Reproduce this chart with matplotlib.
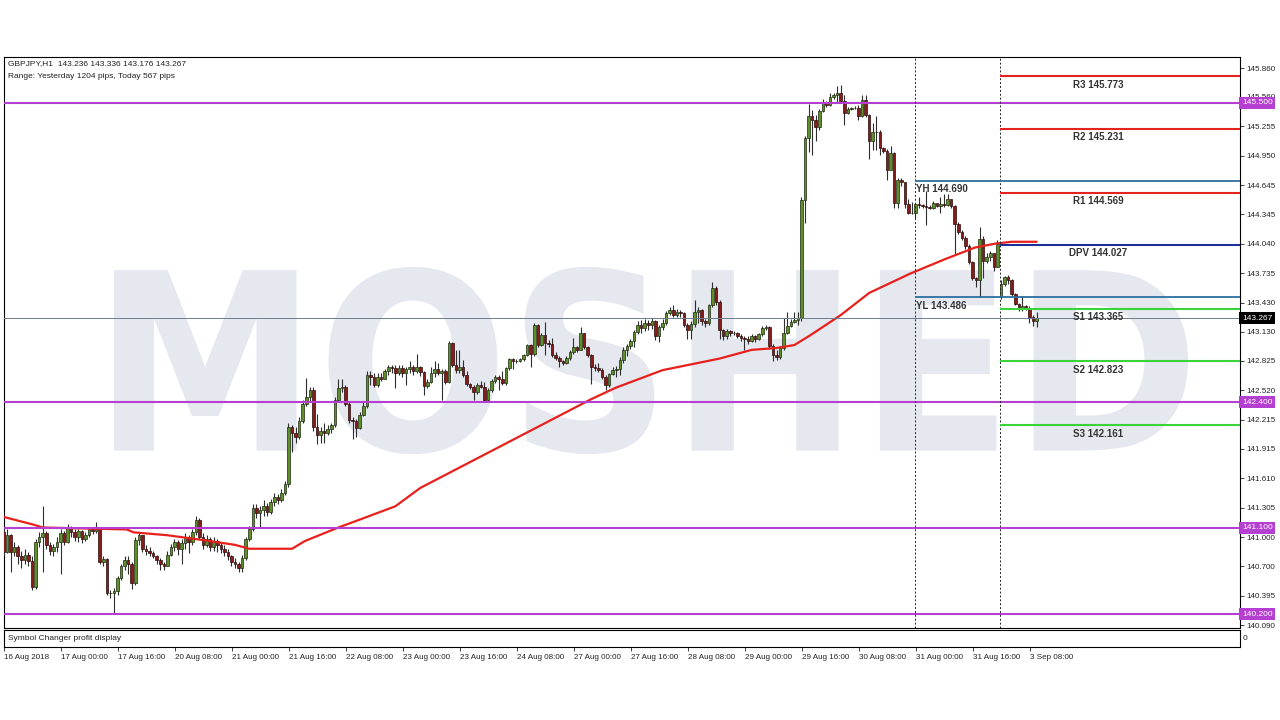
import matplotlib
matplotlib.use('Agg')
import matplotlib.pyplot as plt
import numpy as np
from matplotlib.textpath import TextPath
from matplotlib.patches import PathPatch
from matplotlib.font_manager import FontProperties
from matplotlib.transforms import Affine2D, blended_transform_factory

plt.rcParams['font.family'] = ['Liberation Sans', 'DejaVu Sans']

# GBPJPY H1, 16 Aug 2018 08:00 .. 3 Sep 2018 10:00 (one value per bar)
opens = [
    141.05, 140.85, 141.02, 140.85, 140.90, 140.80, 140.76, 140.82, 140.75, 140.48,
    140.95, 141.00, 141.04, 140.92, 140.86, 140.90, 140.95, 141.04, 140.95, 141.10,
    141.05, 141.00, 141.06, 140.98, 141.02, 141.08, 141.06, 141.08, 140.74, 140.77,
    140.42, 140.42, 140.44, 140.58, 140.70, 140.76, 140.72, 140.52, 140.97, 141.02,
    140.88, 140.86, 140.84, 140.80, 140.76, 140.72, 140.70, 140.82, 140.90, 140.95,
    140.88, 140.94, 141.00, 140.95, 141.05, 141.18, 141.00, 140.92, 140.98, 140.90,
    140.96, 140.92, 140.88, 140.85, 140.80, 140.74, 140.72, 140.68, 140.78, 140.98,
    141.08, 141.30, 141.25, 141.28, 141.32, 141.26, 141.36, 141.42, 141.38, 141.46,
    141.55, 142.14, 142.08, 142.04, 142.20, 142.38, 142.45, 142.52, 142.14, 142.06,
    142.10, 142.08, 142.12, 142.16, 142.42, 142.54, 142.56, 142.38, 142.21, 142.20,
    142.13, 142.27, 142.36, 142.68, 142.66, 142.58, 142.66, 142.64, 142.72, 142.76,
    142.75, 142.70, 142.75, 142.70, 142.74, 142.76, 142.72, 142.76, 142.71, 142.57,
    142.61, 142.70, 142.74, 142.70, 142.72, 142.61, 143.01, 142.78, 142.73, 142.76,
    142.68, 142.59, 142.56, 142.50, 142.58, 142.56, 142.42, 142.52, 142.62, 142.66,
    142.64, 142.60, 142.75, 142.85, 142.82, 142.83, 142.85, 142.89, 142.99, 142.90,
    143.20, 142.99, 143.09, 143.01, 143.00, 142.89, 142.86, 142.82, 142.80, 142.86,
    142.92, 142.97, 142.94, 143.11, 142.97, 142.89, 142.76, 142.75, 142.73, 142.66,
    142.58, 142.69, 142.73, 142.74, 142.84, 142.94, 142.98, 143.03, 143.13, 143.20,
    143.17, 143.22, 143.20, 143.24, 143.08, 143.18, 143.22, 143.32, 143.35, 143.30,
    143.33, 143.32, 143.20, 143.15, 143.21, 143.33, 143.35, 143.24, 143.22, 143.40,
    143.58, 143.44, 143.15, 143.08, 143.14, 143.11, 143.12, 143.08, 143.06, 143.05,
    143.03, 143.08, 143.05, 143.10, 143.17, 143.18, 142.98, 142.89, 142.87, 142.96,
    143.11, 143.19, 143.23, 143.25, 143.27, 144.49, 145.13, 145.36, 145.32, 145.25,
    145.41, 145.51, 145.48, 145.56, 145.58, 145.60, 145.52, 145.39, 145.44, 145.45,
    145.45, 145.36, 145.53, 145.37, 145.10, 145.20, 145.20, 145.03, 145.00, 144.80,
    144.98, 144.46, 144.70, 144.68, 144.45, 144.36, 144.36, 144.45, 144.44, 144.43,
    144.42, 144.41, 144.46, 144.43, 144.45, 144.44, 144.50, 144.43, 144.24, 144.16,
    144.10, 144.02, 143.85, 143.68, 143.66, 144.09, 143.86, 143.90, 143.94, 143.80,
    143.50, 143.62, 143.69, 143.66, 143.52, 143.42, 143.36, 143.39, 143.37, 143.28, 143.236]

closes = [
    140.85, 141.02, 140.85, 140.90, 140.80, 140.76, 140.82, 140.75, 140.48, 140.95,
    141.00, 141.04, 140.92, 140.86, 140.90, 140.95, 141.04, 140.95, 141.10, 141.05,
    141.00, 141.06, 140.98, 141.02, 141.08, 141.06, 141.08, 140.74, 140.77, 140.42,
    140.42, 140.44, 140.58, 140.70, 140.76, 140.72, 140.52, 140.97, 141.02, 140.88,
    140.86, 140.84, 140.80, 140.76, 140.72, 140.70, 140.82, 140.90, 140.95, 140.88,
    140.94, 141.00, 140.95, 141.05, 141.18, 141.00, 140.92, 140.98, 140.90, 140.96,
    140.92, 140.88, 140.85, 140.80, 140.74, 140.72, 140.68, 140.78, 140.98, 141.08,
    141.30, 141.25, 141.28, 141.32, 141.26, 141.36, 141.42, 141.38, 141.46, 141.55,
    142.14, 142.08, 142.04, 142.20, 142.38, 142.45, 142.52, 142.14, 142.06, 142.10,
    142.08, 142.12, 142.16, 142.42, 142.54, 142.56, 142.38, 142.21, 142.20, 142.13,
    142.27, 142.36, 142.68, 142.66, 142.58, 142.66, 142.64, 142.72, 142.76, 142.75,
    142.70, 142.75, 142.70, 142.74, 142.76, 142.72, 142.76, 142.71, 142.57, 142.61,
    142.70, 142.74, 142.70, 142.72, 142.61, 143.01, 142.78, 142.73, 142.76, 142.68,
    142.59, 142.56, 142.50, 142.58, 142.56, 142.42, 142.52, 142.62, 142.66, 142.64,
    142.60, 142.75, 142.85, 142.82, 142.83, 142.85, 142.89, 142.99, 142.90, 143.20,
    142.99, 143.09, 143.01, 143.00, 142.89, 142.86, 142.82, 142.80, 142.86, 142.92,
    142.97, 142.94, 143.11, 142.97, 142.89, 142.76, 142.75, 142.73, 142.66, 142.58,
    142.69, 142.73, 142.74, 142.84, 142.94, 142.98, 143.03, 143.13, 143.20, 143.17,
    143.22, 143.20, 143.24, 143.08, 143.18, 143.22, 143.32, 143.35, 143.30, 143.33,
    143.32, 143.20, 143.15, 143.21, 143.33, 143.35, 143.24, 143.22, 143.40, 143.58,
    143.44, 143.15, 143.08, 143.14, 143.11, 143.12, 143.08, 143.06, 143.05, 143.03,
    143.08, 143.05, 143.10, 143.17, 143.18, 142.98, 142.89, 142.87, 142.96, 143.11,
    143.19, 143.23, 143.25, 143.27, 144.49, 145.13, 145.36, 145.32, 145.25, 145.41,
    145.51, 145.48, 145.56, 145.58, 145.60, 145.52, 145.39, 145.44, 145.45, 145.45,
    145.36, 145.53, 145.37, 145.10, 145.20, 145.20, 145.03, 145.00, 144.80, 144.98,
    144.46, 144.70, 144.68, 144.45, 144.36, 144.36, 144.45, 144.44, 144.43, 144.42,
    144.41, 144.46, 144.43, 144.45, 144.44, 144.50, 144.43, 144.24, 144.16, 144.10,
    144.02, 143.85, 143.68, 143.66, 144.09, 143.86, 143.90, 143.94, 143.80, 144.04,
    143.62, 143.69, 143.66, 143.52, 143.42, 143.36, 143.39, 143.37, 143.28, 143.236, 143.267]

highs = [
    141.10, 141.08, 141.03, 140.95, 140.92, 140.86, 140.88, 140.85, 140.80, 140.98,
    141.05, 141.32, 141.06, 140.95, 140.93, 141.00, 141.08, 141.06, 141.14, 141.12,
    141.08, 141.08, 141.07, 141.05, 141.11, 141.10, 141.16, 141.08, 140.80, 140.78,
    140.45, 140.47, 140.60, 140.72, 140.80, 140.80, 140.74, 141.00, 141.05, 141.02,
    140.92, 140.90, 140.86, 140.82, 140.78, 140.74, 140.86, 140.93, 140.98, 140.97,
    140.98, 141.04, 141.02, 141.08, 141.22, 141.20, 141.04, 141.02, 141.00, 141.00,
    140.98, 140.95, 140.92, 140.88, 140.82, 140.78, 140.74, 140.82, 141.00, 141.12,
    141.34, 141.34, 141.32, 141.38, 141.35, 141.40, 141.46, 141.45, 141.50, 141.58,
    142.18, 142.16, 142.14, 142.24, 142.42, 142.65, 142.56, 142.56, 142.28, 142.14,
    142.18, 142.16, 142.18, 142.45, 142.64, 142.64, 142.58, 142.40, 142.24, 142.22,
    142.30, 142.40, 142.72, 142.72, 142.70, 142.70, 142.70, 142.74, 142.78, 142.78,
    142.78, 142.78, 142.78, 142.76, 142.83, 142.78, 142.90, 142.77, 142.72, 142.64,
    142.76, 142.82, 142.80, 142.74, 142.74, 143.03, 143.02, 142.94, 142.94, 142.84,
    142.72, 142.60, 142.58, 142.60, 142.62, 142.61, 142.55, 142.64, 142.68, 142.68,
    142.72, 142.76, 142.86, 142.86, 142.85, 142.86, 142.90, 143.00, 143.00, 143.22,
    143.21, 143.11, 143.23, 143.04, 143.06, 142.92, 142.88, 142.84, 142.88, 142.94,
    143.06, 142.98, 143.18, 143.12, 142.98, 142.90, 142.79, 142.80, 142.75, 142.68,
    142.70, 142.76, 142.77, 142.87, 142.97, 143.00, 143.05, 143.15, 143.24, 143.25,
    143.26, 143.25, 143.27, 143.25, 143.20, 143.26, 143.34, 143.38, 143.40, 143.36,
    143.35, 143.33, 143.22, 143.24, 143.46, 143.38, 143.36, 143.26, 143.42, 143.64,
    143.60, 143.46, 143.16, 143.16, 143.15, 143.14, 143.13, 143.10, 143.08, 143.08,
    143.10, 143.09, 143.12, 143.19, 143.20, 143.19, 143.00, 142.94, 142.98, 143.27,
    143.33, 143.26, 143.33, 143.33, 144.52, 145.16, 145.49, 145.42, 145.37, 145.44,
    145.54, 145.52, 145.60, 145.60, 145.67, 145.68, 145.58, 145.46, 145.46, 145.47,
    145.48, 145.58, 145.58, 145.38, 145.29, 145.36, 145.22, 145.04, 145.02, 145.05,
    144.99, 144.72, 144.72, 144.68, 144.50, 144.47, 144.46, 144.52, 144.45, 144.59,
    144.44, 144.48, 144.46, 144.52, 144.55, 144.55, 144.50, 144.44, 144.26, 144.18,
    144.12, 144.04, 143.86, 143.70, 144.21, 144.12, 143.94, 143.96, 143.94, 144.08,
    143.66, 143.71, 143.72, 143.67, 143.53, 143.43, 143.50, 143.41, 143.39, 143.30, 143.336]

lows = [
    140.80, 140.84, 140.64, 140.80, 140.72, 140.68, 140.72, 140.70, 140.45, 140.46,
    140.90, 140.64, 140.88, 140.82, 140.80, 140.85, 140.62, 140.92, 140.94, 141.00,
    140.96, 140.95, 140.94, 140.96, 141.00, 141.03, 141.04, 140.72, 140.70, 140.40,
    140.37, 140.20, 140.40, 140.56, 140.66, 140.62, 140.46, 140.50, 140.92, 140.85,
    140.82, 140.80, 140.78, 140.72, 140.66, 140.66, 140.70, 140.80, 140.86, 140.82,
    140.72, 140.88, 140.84, 140.92, 141.02, 140.98, 140.88, 140.90, 140.86, 140.86,
    140.85, 140.84, 140.80, 140.76, 140.70, 140.68, 140.64, 140.64, 140.76, 140.96,
    141.06, 141.20, 141.10, 141.22, 141.22, 141.24, 141.32, 141.34, 141.36, 141.44,
    141.52, 141.88, 141.98, 142.02, 142.18, 142.36, 142.40, 142.10, 141.96, 141.98,
    141.98, 142.06, 142.08, 142.14, 142.40, 142.50, 142.36, 142.18, 142.02, 142.04,
    142.12, 142.26, 142.34, 142.58, 142.56, 142.56, 142.62, 142.64, 142.68, 142.70,
    142.54, 142.68, 142.66, 142.58, 142.70, 142.68, 142.70, 142.67, 142.47, 142.55,
    142.60, 142.66, 142.68, 142.42, 142.59, 142.60, 142.76, 142.70, 142.70, 142.66,
    142.57, 142.53, 142.42, 142.48, 142.54, 142.41, 142.41, 142.50, 142.60, 142.52,
    142.58, 142.58, 142.73, 142.74, 142.80, 142.81, 142.82, 142.88, 142.76, 142.88,
    142.97, 142.98, 142.89, 142.97, 142.87, 142.84, 142.76, 142.78, 142.79, 142.84,
    142.90, 142.92, 142.94, 142.95, 142.87, 142.59, 142.72, 142.71, 142.64, 142.52,
    142.56, 142.68, 142.66, 142.68, 142.80, 142.88, 142.95, 142.97, 143.10, 143.12,
    143.14, 143.15, 143.16, 143.04, 143.02, 143.15, 143.20, 143.30, 143.28, 143.28,
    143.28, 143.18, 143.05, 143.05, 143.18, 143.22, 143.20, 143.18, 143.20, 143.38,
    143.40, 143.05, 143.04, 143.05, 143.08, 143.09, 143.06, 143.03, 142.94, 143.00,
    143.02, 143.02, 143.04, 143.08, 143.15, 142.95, 142.82, 142.84, 142.85, 142.94,
    143.10, 143.18, 143.22, 143.20, 143.24, 144.25, 144.99, 144.96, 145.10, 145.22,
    145.40, 145.46, 145.47, 145.54, 145.51, 145.50, 145.27, 145.38, 145.42, 145.44,
    145.32, 145.35, 145.35, 144.92, 145.01, 145.01, 144.96, 144.98, 144.70, 144.80,
    144.41, 144.41, 144.64, 144.41, 144.35, 144.35, 144.31, 144.41, 144.41, 144.23,
    144.40, 144.40, 144.42, 144.36, 144.42, 144.43, 144.41, 143.93, 144.14, 144.08,
    143.98, 143.83, 143.66, 143.59, 143.49, 143.68, 143.84, 143.86, 143.76, 143.80,
    143.47, 143.60, 143.62, 143.50, 143.40, 143.34, 143.34, 143.35, 143.22, 143.19, 143.176]

# red moving average, vertices (bar index, price)
ma_bar = [0, 8.4, 11, 34.6, 36.5, 46, 56, 65, 69, 81, 84.6, 94, 100.6, 110, 117,
          165, 172, 185, 201, 210, 217, 222, 226.4, 235, 243, 254.5, 264.3, 272.7,
          278.3, 283, 290]
ma_val = [141.21, 141.13, 141.10, 141.08, 141.05, 141.02, 140.97, 140.92, 140.88,
          140.88, 140.96, 141.10, 141.19, 141.32, 141.51, 142.43, 142.55, 142.73,
          142.85, 142.94, 142.96, 142.99, 143.09, 143.30, 143.53, 143.73, 143.88,
          144.00, 144.04, 144.06, 144.06]

levels = [145.500, 142.400, 141.100, 140.200]
last_price = 143.267

piv_names = ['R3', 'R2', 'R1', 'DPV', 'S1', 'S2', 'S3']
piv_vals = [145.773, 145.231, 144.569, 144.027, 143.365, 142.823, 142.161]
yest_names = ['YH', 'YL']
yest_vals = [144.690, 143.486]

price_ticks = [145.860, 145.560, 145.255, 144.950, 144.645, 144.345, 144.040, 143.735,
               143.430, 143.130, 142.825, 142.520, 142.215, 141.915, 141.610, 141.305,
               141.000, 140.700, 140.395, 140.090]
time_ticks = [0, 16, 32, 48, 64, 80, 96, 112, 128, 144, 160, 176, 192, 208, 224, 240,
              256, 272, 288]
time_labels = ['16 Aug 2018', '17 Aug 00:00', '17 Aug 16:00', '20 Aug 08:00',
               '21 Aug 00:00', '21 Aug 16:00', '22 Aug 08:00', '23 Aug 00:00',
               '23 Aug 16:00', '24 Aug 08:00', '27 Aug 00:00', '27 Aug 16:00',
               '28 Aug 08:00', '29 Aug 00:00', '29 Aug 16:00', '30 Aug 08:00',
               '31 Aug 00:00', '31 Aug 16:00', '3 Sep 08:00']
day_sep = [255.9, 279.7]   # 31 Aug, 3 Sep

W, H = 1280, 720
def box(x, y, w, h):
    return [x / W, 1 - (y + h) / H, w / W, h / H]

fig = plt.figure(figsize=(12.8, 7.2), dpi=100)
ax = fig.add_axes(box(4, 57, 1236, 571))
sub = fig.add_axes(box(4, 630, 1236, 17))

XL = (0.14, 347.09)
ax.set_xlim(*XL)
ax.set_ylim(140.059, 145.974)

# watermark
tp = TextPath((0, 0), 'MOSHED', size=100, prop=FontProperties(family='DejaVu Sans', weight='bold'))
ext = tp.get_extents()
x0, x1, y0, y1 = 31.0, 332.5, 141.86, 143.80
tr = Affine2D().translate(-ext.x0, -ext.y0).scale((x1 - x0) / ext.width, (y1 - y0) / ext.height).translate(x0, y0)
ax.add_patch(PathPatch(tr.transform_path(tp), fc='#e5e8ef', ec='none', zorder=0.5))

# candles
o = np.array(opens); c = np.array(closes); hi = np.array(highs); lo = np.array(lows)
idx = np.arange(len(c))
up = c >= o
ax.vlines(idx, np.minimum(lo, np.minimum(o, c)), np.maximum(hi, np.maximum(o, c)),
          color='#2e2e2e', lw=0.8, zorder=3)
ax.bar(idx[up], (c - o)[up], bottom=o[up], width=0.72, color='#5e8f2a',
       edgecolor='#1e2b0e', lw=0.5, zorder=4)
ax.bar(idx[~up], (o - c)[~up], bottom=c[~up], width=0.72, color='#861c1c',
       edgecolor='#2a0a0a', lw=0.5, zorder=4)

ax.plot(ma_bar, ma_val, color='#e8201c', lw=1.6, zorder=5, solid_capstyle='round')

for v in levels:
    ax.axhline(v, color='#b53fd0', lw=1.5, zorder=6)
ax.axhline(last_price, color='#6d7c8c', lw=0.7, zorder=6)

for d in day_sep:
    ax.axvline(d, color='#222', lw=0.7, ls=(0, (2, 2)), zorder=6)

piv_col = {'R': '#e3241e', 'S': '#3ad43a', 'D': '#1f2f99'}
for n, v in zip(piv_names, piv_vals):
    ax.hlines(v, day_sep[1], XL[1], color=piv_col[n[0]], lw=1.5, zorder=6)
    ax.annotate(f'{n} {v:.3f}', (307.2, v), xytext=(0, -2.5), textcoords='offset points',
                ha='center', va='top', fontsize=7, fontweight='bold', color='#333', zorder=7)
for n, v in zip(yest_names, yest_vals):
    ax.hlines(v, day_sep[0], XL[1], color='#2b6f9e', lw=1.3, zorder=6)
    ax.annotate(f'{n} {v:.3f}', (day_sep[0] + 0.2, v), xytext=(0, -2.5), textcoords='offset points',
                ha='left', va='top', fontsize=7, fontweight='bold', color='#333', zorder=7)

ax.set_xticks([])
ax.yaxis.tick_right()
ax.set_yticks(price_ticks)
ax.set_yticklabels([f'{t:.3f}' for t in price_ticks])
ax.tick_params(axis='y', direction='out', length=3, width=0.6, pad=1.5, labelsize=5.8, colors='#222')
for s in ax.spines.values():
    s.set_linewidth(0.8)

bt = blended_transform_factory(ax.transAxes, ax.transData)
for v in levels:
    ax.text(1.0015, v, f'{v:.3f}', transform=bt, ha='left', va='center', fontsize=6,
            color='white', zorder=10, bbox=dict(boxstyle='square,pad=0.3', fc='#b53fd0', ec='none'))
ax.text(1.0015, last_price, f'{last_price:.3f}', transform=bt, ha='left', va='center',
        fontsize=6, color='white', zorder=10,
        bbox=dict(boxstyle='square,pad=0.3', fc='black', ec='none'))

sub.set_xlim(*XL)
sub.set_ylim(0, 1)
sub.set_yticks([])
sub.set_xticks(time_ticks)
sub.set_xticklabels(time_labels)
for lb in sub.get_xticklabels():
    lb.set_ha('left')
sub.tick_params(axis='x', direction='out', length=3, width=0.6, pad=2, labelsize=5.8, colors='#222')
for s in sub.spines.values():
    s.set_linewidth(0.8)

fig.text(8 / W, 1 - 64 / H, 'GBPJPY,H1  143.236 143.336 143.176 143.267', fontsize=6,
         va='center', color='#222')
fig.text(8 / W, 1 - 76 / H, 'Range: Yesterday 1204 pips, Today 567 pips', fontsize=6,
         va='center', color='#222')
fig.text(8 / W, 1 - 638 / H, 'Symbol Changer profit display', fontsize=6, va='center', color='#222')
fig.text(1243 / W, 1 - 638 / H, '0', fontsize=6, va='center', color='#222')

fig.savefig('out.png', dpi=100)
